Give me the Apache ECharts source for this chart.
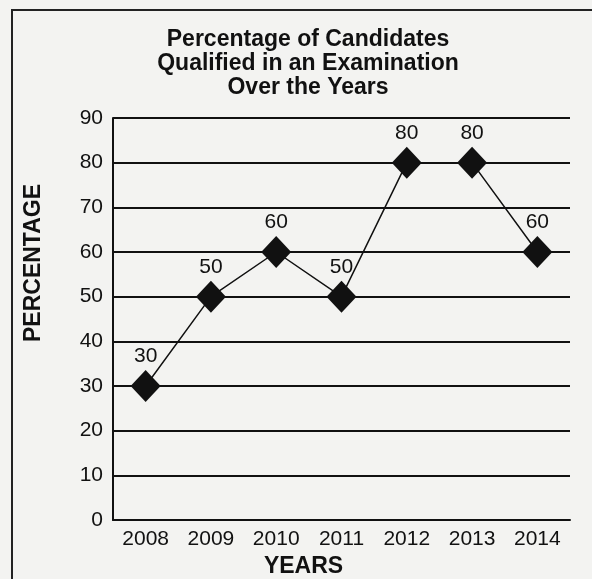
<!DOCTYPE html>
<html><head><meta charset="utf-8">
<script src="https://cdn.jsdelivr.net/npm/echarts@6/dist/echarts.min.js"></script>
<style>html,body{margin:0;padding:0;background:#f3f3f1}#c{width:592px;height:579px}</style>
</head><body><div id="c"></div>
<script>
const years = ['2008','2009','2010','2011','2012','2013','2014'];
const percentage = [30, 50, 60, 50, 80, 80, 60];
const chart = echarts.init(document.getElementById('c'));
chart.setOption({
  backgroundColor: '#f3f3f1',
  title: {
    text: 'Percentage of Candidates\nQualified in an Examination\nOver the Years',
    left: 303, top: 23, textAlign: 'center',
    textStyle: {fontFamily: 'Liberation Sans', fontWeight: 'bold', fontSize: 23, lineHeight: 24, color: '#111'}
  },
  graphic: [{type: 'rect', shape: {x: 12, y: 10, width: 600, height: 600}, style: {fill: 'none', stroke: '#222', lineWidth: 2}}],
  grid: {left: 113, right: 22, top: 118, bottom: 59, outerBoundsMode: 'none', containLabel: false},
  xAxis: {
    type: 'category', data: years, boundaryGap: true,
    name: 'YEARS', nameLocation: 'middle', nameGap: 33,
    nameTextStyle: {fontFamily: 'Liberation Sans', fontWeight: 'bold', fontSize: 23, color: '#111', padding: [0, 76, 0, 0]},
    axisLine: {lineStyle: {color: '#111', width: 2}},
    axisTick: {show: false},
    axisLabel: {fontFamily: 'Liberation Sans', fontSize: 21, color: '#111', margin: 9}
  },
  yAxis: {
    type: 'value', min: 0, max: 90, interval: 10,
    name: 'PERCENTAGE', nameLocation: 'middle', nameGap: 68, nameRotate: 90,
    nameTextStyle: {fontFamily: 'Liberation Sans', fontWeight: 'bold', fontSize: 23, color: '#111', padding: [0, 0, 0, 112]},
    axisLine: {show: true, lineStyle: {color: '#111', width: 2}},
    axisTick: {show: false},
    axisLabel: {fontFamily: 'Liberation Sans', fontSize: 21, color: '#111', margin: 10},
    splitLine: {lineStyle: {color: '#111', width: 2}}
  },
  series: [{
    type: 'line', data: percentage,
    symbol: 'diamond', symbolSize: [30, 32],
    itemStyle: {color: '#111'},
    lineStyle: {color: '#111', width: 1.5},
    label: {show: true, position: 'top', distance: 3, fontFamily: 'Liberation Sans', fontSize: 21, color: '#111'}
  }]
});
</script></body></html>
